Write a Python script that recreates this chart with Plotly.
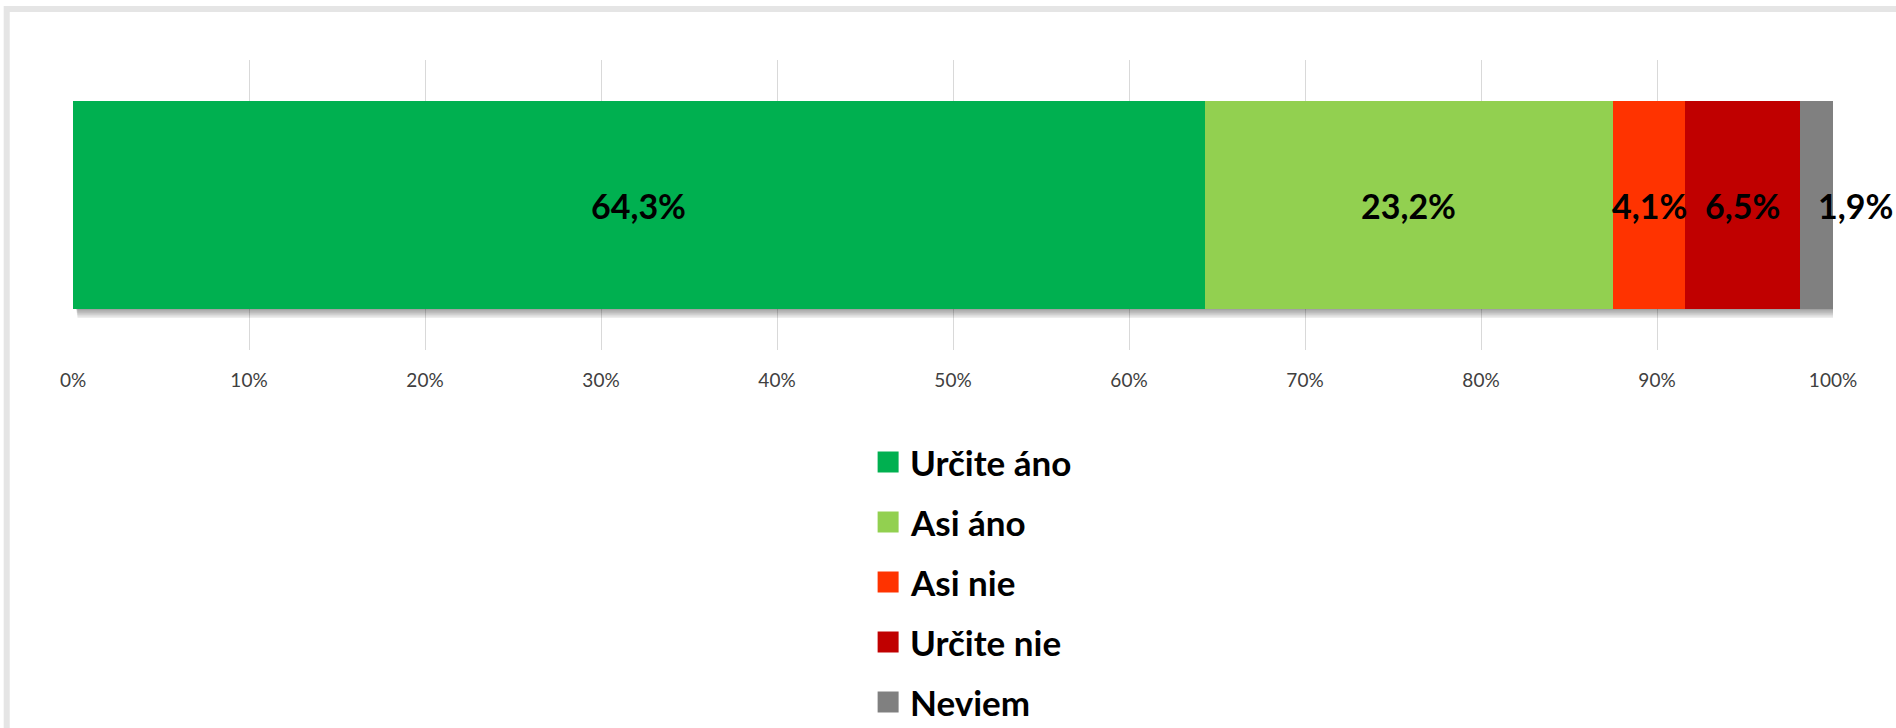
import plotly.graph_objects as go

# ---- data ----
categories = ["Určite áno", "Asi áno", "Asi nie", "Určite nie", "Neviem"]
values = [64.3, 23.2, 4.1, 6.5, 1.9]
value_labels = ["64,3%", "23,2%", "4,1%", "6,5%", "1,9%"]
colors = ["#00B050", "#92D050", "#FF3300", "#C00000", "#808080"]
tick_values = [0, 10, 20, 30, 40, 50, 60, 70, 80, 90, 100]
tick_labels = ["0%", "10%", "20%", "30%", "40%", "50%", "60%", "70%", "80%", "90%", "100%"]

# ---- layout geometry (pixels) ----
FIG_W, FIG_H = 1896, 728
L, R_EDGE = 73.3, 1833.5
T, B = 60, 350
W, H = R_EDGE - L, B - T
YR = 0.697  # y range half-extent so that bar (width 1) spans ~208 px


def px_x(p):
    return (p - L) / W


def px_y(p):
    return (B - p) / H


FONT = "Lato, Calibri, 'Open Sans', sans-serif"

fig = go.Figure()

for cat, val, col in zip(categories, values, colors):
    fig.add_trace(go.Bar(
        x=[val], y=[0], name=cat, orientation="h", width=[1],
        marker=dict(color=col, line=dict(width=0)),
        showlegend=False, hoverinfo="x+name",
    ))

# value labels at segment centres
annotations = []
cum = 0
for i, (val, lab) in enumerate(zip(values, value_labels)):
    centre = cum + val / 2
    cum += val
    annotations.append(dict(
        x=centre, y=0, xref="x", yref="y", text=lab, showarrow=False,
        font=dict(family=FONT, size=34, color="#000000", weight="bold"),
        xshift=39 if i == len(values) - 1 else 0,
    ))
total = cum

shapes = []
# soft drop shadow beneath the bar
px_per_x = W / 100.0
px_per_y = H / (2 * YR)
for s in range(6):
    shapes.append(dict(
        type="rect", xref="x", yref="y", layer="between",
        x0=(3 + s * 0.3) / px_per_x, x1=total + (1 + s * 0.7) / px_per_x,
        y0=-0.5 - (1 + s * 1.6) / px_per_y, y1=0.3,
        fillcolor="rgba(0,0,0,0.07)", line=dict(width=0),
    ))

# outer gray frame (extends past right/bottom edges)
shapes.append(dict(
    type="rect", xref="paper", yref="paper", layer="below",
    x0=px_x(7), x1=px_x(FIG_W + 40), y0=px_y(FIG_H + 40), y1=px_y(9),
    line=dict(color="#E5E5E5", width=6), fillcolor="rgba(0,0,0,0)",
))

# manual legend
leg_centres = [462, 522, 582, 642, 702]
for cat, col, yc in zip(categories, colors, leg_centres):
    shapes.append(dict(
        type="rect", xref="paper", yref="paper",
        x0=px_x(878), x1=px_x(899), y0=px_y(yc + 10.5), y1=px_y(yc - 10.5),
        fillcolor=col, line=dict(width=0),
    ))
    annotations.append(dict(
        x=px_x(908), y=px_y(yc), xref="paper", yref="paper",
        xanchor="left", yanchor="middle", text=cat, showarrow=False,
        font=dict(family=FONT, size=35, color="#000000", weight="bold"),
    ))

fig.update_layout(
    width=FIG_W, height=FIG_H,
    barmode="stack",
    plot_bgcolor="white", paper_bgcolor="white",
    margin=dict(l=L, r=FIG_W - R_EDGE, t=T, b=FIG_H - B, autoexpand=False),
    showlegend=False,
    xaxis=dict(
        range=[0, 100], tickvals=tick_values, ticktext=tick_labels,
        showgrid=True, gridcolor="#D9D9D9", gridwidth=1,
        zeroline=False, showline=False, ticks="",
        ticklabelstandoff=17,
        tickfont=dict(family=FONT, size=19, color="#404040"),
        fixedrange=True,
    ),
    yaxis=dict(range=[-YR, YR], visible=False, fixedrange=True),
    shapes=shapes,
    annotations=annotations,
)

fig.write_html(
    "out.html",
    config={"displayModeBar": False},
    post_script="document.body.style.margin='0';document.body.style.overflow='hidden';",
)
